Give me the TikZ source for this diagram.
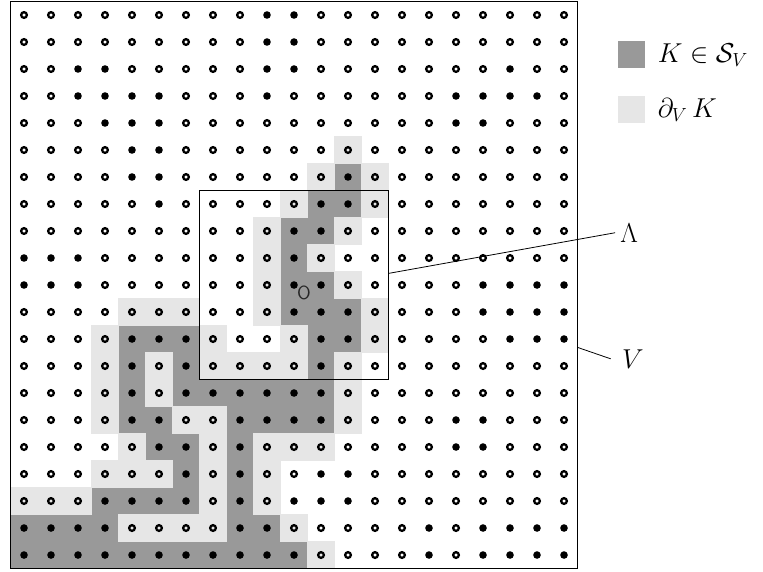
\documentclass[tikz,border=0pt]{standalone}
\usepackage{amsmath,amssymb}
\usetikzlibrary{positioning}
\definecolor{Kdark}{HTML}{999999}
\definecolor{Kbdry}{HTML}{E6E6E6}
\definecolor{Ink}{HTML}{000000}

\begin{document}
\begin{tikzpicture}[
  x=0.6cm, y=0.6cm,
  kcell/.style={fill=Kdark, draw=Kdark, line width=0.2pt},
  bcell/.style={fill=Kbdry, draw=Kbdry, line width=0.2pt},
  dot0/.style={circle, draw=Ink, line width=1.45pt, inner sep=0pt, minimum size=3.6pt},
  dot1/.style={circle, fill=Ink, inner sep=0pt, minimum size=4.8pt},
  frame/.style={draw=Ink, line width=1.1pt},
  lead/.style={draw=Ink, line width=0.5pt},
  key/.style={inner sep=0pt, minimum size=0.6cm},
  lbl/.style={inner sep=0pt, font=\LARGE},
]
\useasboundingbox (-0.889,0.556) rectangle (27.37,-20.593);

% cluster K and its boundary
\foreach \j/\cs in {6/{12},7/{11,12},8/{10,11},9/{10},10/{10,11},11/{10,11,12},
  12/{4,5,6,11,12},13/{4,6,11},14/{4,6,7,8,9,10,11},15/{4,5,8,9,10,11},
  16/{5,6,8},17/{6,8},18/{3,4,5,6,8},19/{0,1,2,3,8,9},20/{0,...,10}}
  \foreach \i in \cs \fill[kcell] (\i-0.5,-\j-0.5) rectangle (\i+0.5,-\j+0.5);
\foreach \j/\cs in {5/{12},6/{11,13},7/{10,13},8/{9,12},9/{9,11},10/{9,12},
  11/{4,5,6,9,13},12/{3,7,10,13},13/{3,5,7,8,9,10,12},14/{3,5,12},
  15/{3,6,7,12},16/{4,7,9,10,11},17/{3,4,5,7,9},18/{0,1,2,7,9},
  19/{4,5,6,7,10},20/{11}}
  \foreach \i in \cs \fill[bcell] (\i-0.5,-\j-0.5) rectangle (\i+0.5,-\j+0.5);

% lattice points, 1 = occupied
\foreach \j/\row in {
  0/{0,0,0,0,0,0,0,0,0,1,1,0,0,0,0,0,0,0,0,0,0},
  1/{0,0,0,0,0,0,0,0,0,1,1,0,0,0,0,0,0,0,0,0,0},
  2/{0,0,1,1,0,0,0,0,0,1,1,0,0,0,0,0,0,0,1,0,0},
  3/{0,0,1,1,1,1,0,0,0,1,0,0,0,0,0,0,1,1,1,1,0},
  4/{0,0,0,1,1,1,0,0,0,0,0,0,0,0,0,0,1,1,0,0,0},
  5/{0,0,0,0,1,1,0,0,0,0,0,0,0,0,0,0,0,0,0,0,0},
  6/{0,0,0,0,1,1,0,0,0,0,0,0,1,0,0,0,0,0,0,0,0},
  7/{0,0,0,0,0,1,0,0,0,0,0,1,1,0,0,0,0,0,0,0,0},
  8/{0,0,0,0,0,0,0,0,0,0,1,1,0,0,0,0,0,0,0,0,0},
  9/{1,1,1,0,0,0,0,0,0,0,1,0,0,0,0,0,0,0,0,0,0},
  10/{1,1,1,0,0,0,0,0,0,0,1,1,0,0,0,0,0,1,1,1,1},
  11/{0,0,0,0,0,0,0,0,0,0,1,1,1,0,0,0,0,1,1,1,1},
  12/{0,0,0,0,1,1,1,0,0,0,0,1,1,0,0,0,0,0,1,1,1},
  13/{0,0,0,0,1,0,1,0,0,0,0,1,0,0,0,0,0,0,0,0,0},
  14/{0,0,0,0,1,0,1,1,1,1,1,1,0,0,0,0,0,0,0,0,0},
  15/{0,0,0,0,1,1,0,0,1,1,1,1,0,0,0,0,1,1,0,0,0},
  16/{0,0,0,0,0,1,1,0,1,0,0,0,0,0,0,0,1,1,0,0,0},
  17/{0,0,0,0,0,0,1,0,1,0,0,1,1,0,0,0,0,0,0,0,0},
  18/{0,0,0,1,1,1,1,0,1,0,1,1,1,0,0,0,0,0,0,0,0},
  19/{1,1,1,1,0,0,0,0,1,1,0,0,0,0,0,1,0,1,1,1,1},
  20/{1,1,1,1,1,1,1,1,1,1,1,0,0,0,0,1,0,1,1,1,1}}
  \foreach \v [count=\i from 0] in \row
    \node[dot\v] (p\i-\j) at (\i,-\j) {};

\node[inner sep=0pt, text=Ink!85, font=\large\sffamily] (orig) at (10.37,-10.3) {O};

% V and Lambda
\draw[frame] (-0.5,0.5) rectangle (20.5,-20.5);
\draw[frame] (6.5,-6.5) rectangle (13.5,-13.5);
\coordinate (lamE) at (13.5,-9.57);
\coordinate (vE) at (20.5,-12.31);
\node[anchor=base west, inner sep=3.1pt, font=\LARGE] (lam) at (21.89,-8.41) {$\Lambda$};
\node[anchor=base west, inner sep=7pt, font=\LARGE] (vlab) at (21.73,-13.08) {$V$};
\draw[lead] (lamE) -- (lam.west);
\draw[lead] (vE) -- (vlab.west);

% legend
\node[key, fill=Kdark] (keyK) at (22.5,-1.48) {};
\node[key, fill=Kbdry] (keyB) at (22.5,-3.49) {};
\node[lbl, anchor=base west] (txtK) at ([xshift=0.27cm, yshift=-0.175cm]keyK.east) {$K\in\mathcal{S}_V$};
\node[lbl, anchor=base west] (txtB) at ([xshift=0.27cm, yshift=-0.175cm]keyB.east) {$\partial_V\, K$};
\end{tikzpicture}
\end{document}
